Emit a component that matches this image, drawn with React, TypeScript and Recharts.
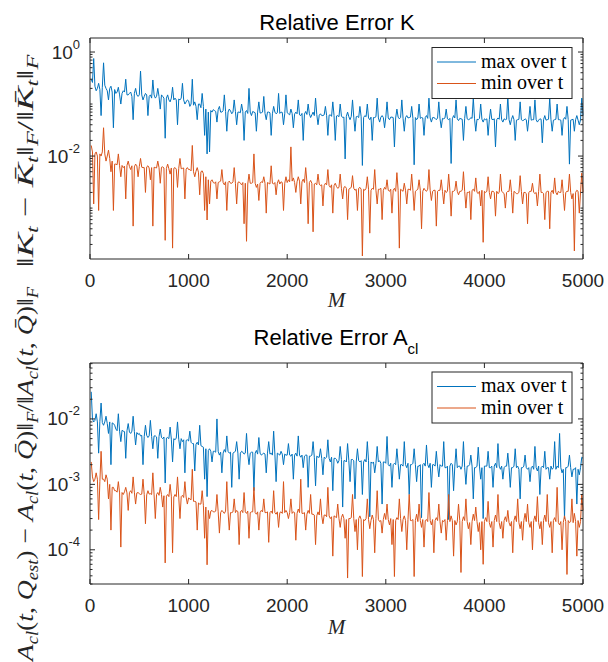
import { Line, LineChart, XAxis, YAxis } from "recharts"

const AX = "#262626"
const BLUE = "#0072BD"
const ORANGE = "#D95319"
const SANS = "Liberation Sans, Arial, Helvetica, sans-serif"
const SERIF = "Liberation Serif, Times New Roman, serif"

// M runs 12.5, 25, ..., 5000 (400 samples)
const mValues = Array.from({ length: 400 }, (_, i) => 12.5 * (i + 1))
const xTicks = [0, 1000, 2000, 3000, 4000, 5000]

// relative error K, max over t
const kMax = [
  0.3, 0.26, 0.75, 0.22, 0.18, 0.2, 0.25, 0.19, 0.06, 0.21, 0.62, 0.23, 0.2, 0.18, 0.12, 0.2, 0.22, 0.17, 0.035, 0.19,
  0.16, 0.17, 0.21, 0.15, 0.1, 0.16, 0.18, 0.17, 0.3, 0.15, 0.15, 0.16, 0.17, 0.14, 0.05, 0.16, 0.2, 0.15, 0.14, 0.15,
  0.43, 0.15, 0.12, 0.14, 0.16, 0.15, 0.06, 0.14, 0.15, 0.13, 0.29, 0.15, 0.13, 0.14, 0.2, 0.14, 0.08, 0.15, 0.14, 0.13,
  0.022, 0.13, 0.15, 0.12, 0.11, 0.13, 0.21, 0.12, 0.13, 0.12, 0.04, 0.125, 0.12, 0.13, 0.25, 0.12, 0.1, 0.11, 0.12, 0.115,
  0.09, 0.1, 0.3, 0.095, 0.11, 0.09, 0.05, 0.1, 0.1, 0.085, 0.16, 0.09, 0.025, 0.08, 0.011, 0.07, 0.012, 0.075, 0.07, 0.078,
  0.075, 0.072, 0.045, 0.078, 0.09, 0.07, 0.07, 0.075, 0.15, 0.072, 0.03, 0.07, 0.08, 0.074, 0.065, 0.07, 0.12, 0.072, 0.04, 0.07,
  0.07, 0.068, 0.1, 0.072, 0.02, 0.07, 0.075, 0.066, 0.2, 0.07, 0.06, 0.072, 0.07, 0.068, 0.03, 0.07, 0.11, 0.067, 0.068, 0.07,
  0.14, 0.066, 0.05, 0.07, 0.07, 0.068, 0.025, 0.065, 0.09, 0.07, 0.065, 0.068, 0.16, 0.066, 0.07, 0.069, 0.04, 0.065, 0.15, 0.068,
  0.065, 0.062, 0.08, 0.066, 0.035, 0.064, 0.07, 0.065, 0.12, 0.062, 0.06, 0.066, 0.02, 0.064, 0.072, 0.063, 0.1, 0.065, 0.055, 0.062,
  0.07, 0.06, 0.13, 0.063, 0.04, 0.061, 0.065, 0.06, 0.06, 0.062, 0.09, 0.06, 0.025, 0.061, 0.062, 0.058, 0.11, 0.06, 0.02, 0.059,
  0.06, 0.057, 0.1, 0.059, 0.055, 0.056, 0.0088, 0.058, 0.07, 0.057, 0.05, 0.058, 0.12, 0.056, 0.03, 0.057, 0.058, 0.055, 0.09, 0.057,
  0.0066, 0.055, 0.06, 0.057, 0.1, 0.054, 0.05, 0.056, 0.02, 0.055, 0.055, 0.057, 0.13, 0.054, 0.045, 0.056, 0.06, 0.055, 0.035, 0.056,
  0.11, 0.054, 0.05, 0.056, 0.056, 0.055, 0.015, 0.054, 0.08, 0.056, 0.052, 0.055, 0.12, 0.053, 0.03, 0.055, 0.06, 0.054, 0.055, 0.056,
  0.09, 0.053, 0.0068, 0.055, 0.05, 0.054, 0.1, 0.053, 0.055, 0.054, 0.025, 0.055, 0.06, 0.053, 0.13, 0.054, 0.045, 0.055, 0.055, 0.053,
  0.05, 0.054, 0.11, 0.052, 0.035, 0.053, 0.052, 0.054, 0.08, 0.052, 0.05, 0.053, 0.0072, 0.052, 0.06, 0.054, 0.12, 0.052, 0.048, 0.053,
  0.052, 0.051, 0.02, 0.053, 0.09, 0.052, 0.05, 0.051, 0.055, 0.053, 0.13, 0.052, 0.03, 0.051, 0.05, 0.053, 0.1, 0.051, 0.045, 0.052,
  0.05, 0.052, 0.025, 0.05, 0.08, 0.051, 0.05, 0.052, 0.015, 0.05, 0.054, 0.051, 0.1, 0.05, 0.045, 0.052, 0.05, 0.051, 0.14, 0.05,
  0.04, 0.051, 0.06, 0.05, 0.02, 0.049, 0.05, 0.051, 0.11, 0.05, 0.048, 0.049, 0.052, 0.05, 0.03, 0.051, 0.09, 0.049, 0.05, 0.05,
  0.12, 0.05, 0.045, 0.049, 0.052, 0.051, 0.018, 0.05, 0.06, 0.049, 0.05, 0.051, 0.13, 0.05, 0.03, 0.049, 0.05, 0.051, 0.1, 0.05,
  0.05, 0.049, 0.025, 0.05, 0.055, 0.051, 0.09, 0.05, 0.007, 0.049, 0.05, 0.051, 0.03, 0.05, 0.06, 0.049, 0.04, 0.05, 0.13, 0.06,
]

// relative error K, min over t
const kMin = [
  0.016, 0.012, 0.0012, 0.011, 0.012, 0.01, 0.0009, 0.011, 0.01, 0.012, 0.035, 0.011, 0.008, 0.01, 0.013, 0.009, 0.005, 0.008, 0.0009, 0.007,
  0.007, 0.0068, 0.011, 0.0065, 0.004, 0.0066, 0.006, 0.0064, 0.0015, 0.0066, 0.008, 0.0063, 0.0055, 0.0065, 0.00045, 0.0062, 0.007, 0.0065, 0.004, 0.0063,
  0.009, 0.0061, 0.006, 0.006, 0.002, 0.0062, 0.0065, 0.0059, 0.0035, 0.006, 0.00045, 0.0061, 0.006, 0.0059, 0.008, 0.006, 0.003, 0.0061, 0.0062, 0.0059,
  0.00024, 0.0058, 0.007, 0.0057, 0.0045, 0.0059, 0.00017, 0.0058, 0.006, 0.0056, 0.0025, 0.0058, 0.009, 0.0057, 0.0058, 0.0059, 0.0015, 0.0056, 0.006, 0.0055,
  0.0055, 0.0052, 0.016, 0.005, 0.004, 0.0051, 0.006, 0.0049, 0.0018, 0.005, 0.0052, 0.0046, 0.0009, 0.004, 0.00059, 0.0035, 0.0012, 0.0033, 0.0035, 0.0031,
  0.003, 0.0032, 0.0015, 0.0031, 0.0032, 0.0033, 0.0055, 0.0031, 0.0028, 0.0032, 0.0009, 0.0031, 0.0033, 0.003, 0.003, 0.0032, 0.006, 0.003, 0.0012, 0.0031,
  0.0032, 0.003, 0.0028, 0.0031, 0.0005, 0.003, 0.00023, 0.0029, 0.0045, 0.003, 0.003, 0.0031, 0.011, 0.003, 0.0025, 0.0029, 0.0014, 0.003, 0.0032, 0.0031,
  0.004, 0.003, 0.0008, 0.0031, 0.003, 0.0029, 0.0065, 0.003, 0.0029, 0.0031, 0.0018, 0.003, 0.0035, 0.0029, 0.0032, 0.0031, 0.0009, 0.003, 0.004, 0.0031,
  0.0035, 0.0032, 0.015, 0.0033, 0.0038, 0.0031, 0.002, 0.0032, 0.004, 0.0033, 0.0012, 0.0032, 0.0036, 0.0031, 0.006, 0.0032, 0.0005, 0.0031, 0.0034, 0.003,
  0.00035, 0.0029, 0.003, 0.0028, 0.0045, 0.0029, 0.0027, 0.0028, 0.0011, 0.0027, 0.003, 0.0028, 0.0055, 0.0027, 0.0025, 0.0028, 0.0008, 0.0027, 0.003, 0.0026,
  0.0024, 0.0025, 0.0045, 0.0024, 0.0015, 0.0025, 0.0026, 0.0024, 0.0006, 0.0023, 0.0024, 0.0025, 0.0042, 0.0024, 0.0022, 0.0023, 0.0009, 0.0024, 0.0025, 0.0023,
  0.00012, 0.0023, 0.0022, 0.0024, 0.004, 0.0023, 0.00033, 0.0022, 0.0024, 0.0023, 0.0055, 0.0022, 0.0012, 0.0023, 0.0023, 0.0024, 0.0006, 0.0022, 0.0025, 0.0023,
  0.0035, 0.0022, 0.0021, 0.0023, 0.0008, 0.0022, 0.0024, 0.0021, 0.0048, 0.0022, 0.00017, 0.0023, 0.0022, 0.0021, 0.003, 0.0022, 0.0012, 0.0023, 0.0023, 0.0022,
  0.0045, 0.0022, 0.0009, 0.0021, 0.0022, 0.0023, 0.0035, 0.0022, 0.0004, 0.0021, 0.0024, 0.0022, 0.0021, 0.0023, 0.0055, 0.0022, 0.0014, 0.0021, 0.0022, 0.0022,
  0.00045, 0.0021, 0.0022, 0.0022, 0.0035, 0.0021, 0.0012, 0.0022, 0.002, 0.0021, 0.0045, 0.0022, 0.0007, 0.0021, 0.0021, 0.0022, 0.0033, 0.0021, 0.0018, 0.0021,
  0.0021, 0.0022, 0.005, 0.0021, 0.001, 0.002, 0.002, 0.0021, 0.0006, 0.0022, 0.0023, 0.0021, 0.0038, 0.002, 0.0019, 0.0021, 0.0011, 0.0022, 0.00022, 0.0021,
  0.002, 0.0021, 0.004, 0.002, 0.0015, 0.0021, 0.0021, 0.002, 0.0007, 0.0021, 0.0019, 0.002, 0.0045, 0.0021, 0.002, 0.0019, 0.001, 0.002, 0.0021, 0.0021,
  0.0035, 0.002, 0.0008, 0.0021, 0.002, 0.0019, 0.0019, 0.002, 0.0042, 0.0021, 0.0012, 0.002, 0.002, 0.0019, 0.0005, 0.002, 0.0021, 0.0021, 0.003, 0.002,
  0.0019, 0.002, 0.0011, 0.0021, 0.0045, 0.002, 0.002, 0.0019, 0.0006, 0.002, 0.0021, 0.0021, 0.0004, 0.002, 0.0022, 0.0019, 0.0038, 0.002, 0.0018, 0.0021,
  0.002, 0.002, 0.0035, 0.0019, 0.0009, 0.002, 0.0021, 0.0021, 0.0045, 0.002, 0.0015, 0.0019, 0.00015, 0.002, 0.0022, 0.0021, 0.0008, 0.002, 0.0047, 0.002,
]

// relative error A_cl, max over t
const aMax = [
  0.026, 0.01, 0.009, 0.0095, 0.012, 0.009, 0.003, 0.0092, 0.0175, 0.0088, 0.008, 0.009, 0.011, 0.0085, 0.006, 0.009, 0.002, 0.0087, 0.0085, 0.008,
  0.007, 0.0066, 0.012, 0.0065, 0.0045, 0.0067, 0.0065, 0.0064, 0.0025, 0.0066, 0.0085, 0.0063, 0.006, 0.0065, 0.011, 0.0064, 0.004, 0.0062, 0.0058, 0.006,
  0.0055, 0.0056, 0.002, 0.0054, 0.008, 0.0056, 0.0052, 0.0055, 0.0095, 0.0054, 0.0035, 0.0055, 0.0055, 0.0053, 0.0025, 0.0054, 0.007, 0.0052, 0.005, 0.0053,
  0.00105, 0.0051, 0.0052, 0.005, 0.0075, 0.0049, 0.0022, 0.005, 0.0048, 0.0051, 0.009, 0.0049, 0.0035, 0.005, 0.0045, 0.0048, 0.0015, 0.0047, 0.0048, 0.0046,
  0.0065, 0.0044, 0.0042, 0.0042, 0.0016, 0.0041, 0.0044, 0.004, 0.008, 0.0039, 0.0038, 0.0037, 0.0012, 0.0035, 0.00065, 0.0033, 0.0035, 0.0032, 0.0022, 0.0032,
  0.0032, 0.0031, 0.01, 0.0032, 0.0028, 0.0031, 0.0015, 0.003, 0.0034, 0.0031, 0.0055, 0.0032, 0.003, 0.0031, 0.0009, 0.003, 0.0031, 0.0032, 0.0045, 0.003,
  0.0012, 0.003, 0.0032, 0.0031, 0.0029, 0.003, 0.006, 0.0029, 0.002, 0.003, 0.0031, 0.0031, 0.0008, 0.003, 0.0033, 0.0029, 0.0052, 0.003, 0.0028, 0.0029,
  0.003, 0.0029, 0.0015, 0.003, 0.0045, 0.0029, 0.003, 0.0028, 0.0065, 0.0029, 0.0011, 0.003, 0.0029, 0.0028, 0.0032, 0.0029, 0.002, 0.0029, 0.0028, 0.0028,
  0.0042, 0.0028, 0.0027, 0.0029, 0.0012, 0.0028, 0.003, 0.0027, 0.0055, 0.0028, 0.0026, 0.0028, 0.0018, 0.0027, 0.0028, 0.0028, 0.0009, 0.0027, 0.0027, 0.0028,
  0.0045, 0.0026, 0.00095, 0.0027, 0.0026, 0.0026, 0.0035, 0.0025, 0.0014, 0.0026, 0.0025, 0.0026, 0.0048, 0.0025, 0.0022, 0.0026, 0.0008, 0.0025, 0.0025, 0.0024,
  0.0021, 0.0023, 0.0038, 0.0024, 0.00045, 0.0023, 0.0023, 0.0022, 0.0042, 0.0023, 0.0011, 0.0024, 0.0024, 0.0023, 0.0006, 0.0022, 0.0035, 0.0023, 0.0022, 0.0023,
  0.0007, 0.0022, 0.0024, 0.0022, 0.0045, 0.0023, 0.00032, 0.0022, 0.0021, 0.0022, 0.0015, 0.0021, 0.0038, 0.0022, 0.0023, 0.0021, 0.0005, 0.0022, 0.0022, 0.0021,
  0.0054, 0.002, 0.0019, 0.0021, 0.0009, 0.002, 0.0021, 0.002, 0.0035, 0.0021, 0.0012, 0.002, 0.002, 0.0019, 0.0045, 0.002, 0.0018, 0.0021, 0.0007, 0.002,
  0.002, 0.0021, 0.0035, 0.002, 0.0011, 0.0019, 0.0019, 0.002, 0.00031, 0.002, 0.0021, 0.0019, 0.004, 0.002, 0.0018, 0.0021, 0.0009, 0.002, 0.002, 0.0019,
  0.0032, 0.0019, 0.0013, 0.002, 0.0019, 0.0019, 0.0045, 0.0018, 0.0018, 0.0019, 0.00029, 0.0019, 0.0021, 0.002, 0.0008, 0.0019, 0.0035, 0.0018, 0.0019, 0.0019,
  0.0017, 0.0019, 0.0045, 0.0018, 0.001, 0.0019, 0.0019, 0.002, 0.0028, 0.0019, 0.0006, 0.0018, 0.0018, 0.0019, 0.0037, 0.0019, 0.0012, 0.0018, 0.0003, 0.0019,
  0.0019, 0.0019, 0.0032, 0.0018, 0.0018, 0.0019, 0.0009, 0.0019, 0.0021, 0.0018, 0.0042, 0.0019, 0.0017, 0.0019, 0.0012, 0.0018, 0.0019, 0.0019, 0.003, 0.0018,
  0.0009, 0.0018, 0.0018, 0.0019, 0.0035, 0.0018, 0.0019, 0.0017, 0.0006, 0.0018, 0.0018, 0.0019, 0.0028, 0.0018, 0.0017, 0.0018, 0.0011, 0.0018, 0.0019, 0.0017,
  0.0038, 0.0018, 0.0016, 0.0019, 0.0007, 0.0018, 0.0019, 0.0018, 0.0032, 0.0017, 0.0018, 0.0018, 0.0012, 0.0019, 0.0017, 0.0018, 0.0045, 0.0017, 0.0019, 0.0018,
  0.006, 0.0018, 0.0015, 0.0017, 0.0003, 0.0018, 0.0018, 0.0019, 0.0028, 0.0018, 0.0013, 0.0017, 0.0017, 0.0018, 0.0005, 0.0017, 0.0014, 0.0018, 0.0026, 0.0025,
]

// relative error A_cl, min over t
const aMin = [
  0.0022, 0.0013, 0.0011, 0.0012, 0.0015, 0.0012, 0.00029, 0.0011, 0.0032, 0.0012, 0.0012, 0.0011, 0.0014, 0.0012, 0.0006, 0.001, 0.0002, 0.0009, 0.0009, 0.0008,
  0.0008, 0.00076, 0.0011, 0.00074, 0.00011, 0.00075, 0.0007, 0.00077, 0.0009, 0.00074, 0.0004, 0.00075, 0.0008, 0.00073, 0.0013, 0.00076, 0.0005, 0.00074, 0.00075, 0.00072,
  0.0007, 0.00071, 0.0012, 0.0007, 0.00025, 0.00069, 0.0008, 0.00071, 0.00072, 0.0007, 0.0015, 0.00069, 0.0003, 0.0007, 0.00075, 0.00068, 0.0009, 0.0007, 0.00045, 0.00067,
  0.000063, 0.00066, 0.0007, 0.00065, 0.001, 0.00066, 0.00009, 0.00064, 0.0007, 0.00065, 0.0013, 0.00064, 0.0003, 0.00065, 0.00068, 0.00063, 0.0011, 0.00064, 0.0005, 0.00062,
  0.0006, 0.00058, 0.0017, 0.00055, 0.00055, 0.00054, 0.0002, 0.00052, 0.0005, 0.0005, 0.0008, 0.00048, 0.00015, 0.00045, 0.000059, 0.0004, 0.0003, 0.00039, 0.0004, 0.00038,
  0.00038, 0.00039, 0.0007, 0.00038, 0.00018, 0.00037, 0.0004, 0.00038, 0.00036, 0.00039, 0.0011, 0.00038, 0.0002, 0.00037, 0.00037, 0.00038, 0.0006, 0.00037, 0.0004, 0.00038,
  0.00012, 0.00038, 0.0004, 0.00037, 0.00075, 0.00038, 0.00036, 0.00039, 0.00015, 0.00037, 0.00038, 0.00038, 0.0009, 0.00037, 0.00035, 0.00038, 0.0002, 0.00037, 0.0004, 0.00038,
  0.0006, 0.00037, 0.00037, 0.00038, 0.00013, 0.00037, 0.00039, 0.00036, 0.0008, 0.00037, 0.00035, 0.00038, 0.00022, 0.00037, 0.00038, 0.00036, 0.0011, 0.00037, 0.0004, 0.00037,
  0.0003, 0.00037, 0.0006, 0.00036, 0.00038, 0.00037, 0.00014, 0.00036, 0.00042, 0.00037, 0.0012, 0.00036, 0.00036, 0.00037, 0.0002, 0.00035, 0.0004, 0.00036, 0.0007, 0.00035,
  0.00035, 0.00034, 0.00012, 0.00033, 0.00038, 0.00034, 0.0006, 0.00033, 0.00025, 0.00034, 0.00034, 0.00032, 0.0009, 0.00033, 0.0003, 0.00032, 0.00008, 0.00033, 0.00032, 0.00031,
  0.0005, 0.0003, 0.00022, 0.00031, 0.00035, 0.0003, 0.00015, 0.00029, 0.000037, 0.0003, 0.0003, 0.00031, 0.0007, 0.0003, 0.00019, 0.00029, 0.0001, 0.0003, 0.00033, 0.00029,
  0.000039, 0.00029, 0.00028, 0.0003, 0.0006, 0.00029, 0.00021, 0.00028, 0.00034, 0.00029, 0.00009, 0.0003, 0.0008, 0.00029, 0.00027, 0.00028, 0.00018, 0.00029, 0.00036, 0.00029,
  0.0005, 0.00029, 0.00024, 0.0003, 0.00012, 0.00029, 0.000039, 0.00028, 0.00031, 0.00029, 0.0006, 0.0003, 0.00019, 0.00029, 0.00033, 0.00028, 0.0001, 0.00029, 0.0007, 0.00028,
  0.00028, 0.00029, 0.000039, 0.00028, 0.00035, 0.00027, 0.0005, 0.00028, 0.00022, 0.00029, 0.00011, 0.00028, 0.00029, 0.00027, 0.00075, 0.00028, 0.00024, 0.00029, 0.00009, 0.00028,
  0.00031, 0.00028, 0.0005, 0.00027, 0.00018, 0.00028, 0.00027, 0.00029, 0.00014, 0.00028, 0.0007, 0.00027, 0.00033, 0.00028, 0.00008, 0.00028, 0.00024, 0.00027, 0.0005, 0.00028,
  0.000045, 0.00027, 0.00032, 0.00028, 0.0006, 0.00027, 0.00021, 0.00026, 0.00012, 0.00027, 0.00035, 0.00028, 0.00045, 0.00027, 0.00019, 0.00026, 0.0001, 0.00027, 0.00006, 0.00027,
  0.00031, 0.00027, 0.00055, 0.00026, 0.00022, 0.00027, 0.00011, 0.00028, 0.00034, 0.00027, 0.0007, 0.00026, 0.00021, 0.00027, 0.00015, 0.00028, 0.00032, 0.00027, 0.0004, 0.00026,
  0.00023, 0.00027, 0.00009, 0.00028, 0.00033, 0.00027, 0.0006, 0.00026, 0.00021, 0.00027, 0.00014, 0.00028, 0.00036, 0.00027, 0.0005, 0.00026, 0.00022, 0.00027, 0.0001, 0.00028,
  0.00033, 0.00027, 0.00065, 0.00026, 0.00021, 0.00027, 0.00012, 0.00028, 0.00034, 0.00027, 0.0007, 0.00026, 0.00022, 0.00027, 0.00009, 0.00028, 0.00031, 0.00027, 0.0009, 0.00026,
  0.00024, 0.00027, 0.0001, 0.00026, 0.00033, 0.00027, 0.000042, 0.00028, 0.00026, 0.00027, 0.0006, 0.00026, 0.00036, 0.00027, 0.00008, 0.00028, 0.00022, 0.00027, 0.00069, 0.0004,
]

const kDomain = [1.05e-4, 1.86]
const aDomain = [3.0e-5, 0.0716]
const kLabelled = [0, -2]
const aLabelled = [-2, -3, -4]

const kData = mValues.map((m, i) => ({ m, max: kMax[i], min: kMin[i] }))
const aData = mValues.map((m, i) => ({ m, max: aMax[i], min: aMin[i] }))

// plot box inside each 608x325 chart
const L = 90
const R = 583
const T = 38
const B = 259

function logTicks(lo: number, hi: number) {
  const out: number[] = []
  for (let e = -6; e <= 1; e++) {
    for (let k = 1; k <= 9; k++) {
      const v = k * Math.pow(10, e)
      if (v >= lo && v <= hi) out.push(v)
    }
  }
  return out
}

const isDecade = (v: number) => Math.abs(Math.log10(v) - Math.round(Math.log10(v))) < 1e-6

function BottomTick({ x, payload }: any) {
  return (
    <g>
      <line x1={x} x2={x} y1={B} y2={B - 5} stroke={AX} />
      <text x={x} y={B + 28} textAnchor="middle" fontSize={19} fill={AX} fontFamily={SANS}>
        {payload.value}
      </text>
    </g>
  )
}

function TopTick({ x }: any) {
  return <line x1={x} x2={x} y1={T} y2={T + 5} stroke={AX} />
}

function leftTick(labelled: number[]) {
  return ({ y, payload }: any) => {
    const v = payload.value
    const e = Math.round(Math.log10(v))
    const major = isDecade(v) && labelled.includes(e)
    return (
      <g>
        <line x1={L} x2={L + (major ? 5 : 2.5)} y1={y} y2={y} stroke={AX} />
        {major && (
          <text x={80} y={y + 6.5} textAnchor="end" fontSize={19} fill={AX} fontFamily={SANS}>
            10
            <tspan dy={-10} fontSize={13}>
              {e}
            </tspan>
          </text>
        )}
      </g>
    )
  }
}

function rightTick(labelled: number[]) {
  return ({ y, payload }: any) => {
    const v = payload.value
    const e = Math.round(Math.log10(v))
    const major = isDecade(v) && labelled.includes(e)
    return <line x1={R} x2={R - (major ? 5 : 2.5)} y1={y} y2={y} stroke={AX} />
  }
}

function ErrorPlot({ data, domain, labelled }: { data: any[]; domain: number[]; labelled: number[] }) {
  const yTicks = logTicks(domain[0], domain[1])
  return (
    <LineChart width={608} height={325} data={data} margin={{ top: 28, right: 15, bottom: 26, left: 30 }}>
      <XAxis
        xAxisId="b"
        dataKey="m"
        type="number"
        domain={[0, 5000]}
        ticks={xTicks}
        interval={0}
        height={40}
        tickSize={0}
        tickMargin={0}
        tickLine={false}
        axisLine={{ stroke: AX }}
        tick={BottomTick}
      />
      <XAxis
        xAxisId="t"
        dataKey="m"
        type="number"
        orientation="top"
        domain={[0, 5000]}
        ticks={xTicks}
        interval={0}
        height={10}
        tickSize={0}
        tickMargin={0}
        tickLine={false}
        axisLine={{ stroke: AX }}
        tick={TopTick}
      />
      <YAxis
        yAxisId="l"
        type="number"
        scale="log"
        domain={domain}
        allowDataOverflow
        ticks={yTicks}
        interval={0}
        width={60}
        tickSize={0}
        tickMargin={0}
        tickLine={false}
        axisLine={{ stroke: AX }}
        tick={leftTick(labelled)}
      />
      <YAxis
        yAxisId="r"
        orientation="right"
        type="number"
        scale="log"
        domain={domain}
        allowDataOverflow
        ticks={yTicks}
        interval={0}
        width={10}
        tickSize={0}
        tickMargin={0}
        tickLine={false}
        axisLine={{ stroke: AX }}
        tick={rightTick(labelled)}
      />
      <Line xAxisId="b" yAxisId="l" dataKey="max" stroke={BLUE} strokeWidth={1} dot={false} isAnimationActive={false} />
      <Line xAxisId="b" yAxisId="l" dataKey="min" stroke={ORANGE} strokeWidth={1} dot={false} isAnimationActive={false} />
    </LineChart>
  )
}

type Seg = [string, "n" | "i" | "s"]

function MathText({ segs }: { segs: Seg[] }) {
  let low = false
  return (
    <>
      {segs.map(([t, kind], i) => {
        const sub = kind === "s"
        const dy = sub && !low ? 5 : !sub && low ? -5 : 0
        low = sub
        return (
          <tspan key={i} dy={dy} fontStyle={kind === "n" ? "normal" : "italic"} fontSize={sub ? 16 : 24}>
            {t}
          </tspan>
        )
      })}
    </>
  )
}

const kLabel: Seg[] = [
  ["‖", "n"], ["K", "i"], ["t", "s"], [" − ", "n"], ["K̄", "i"], ["t", "s"], ["‖", "n"], ["F", "s"],
  ["/", "n"], ["‖", "n"], ["K̄", "i"], ["t", "s"], ["‖", "n"], ["F", "s"],
]

const aLabel: Seg[] = [
  ["‖", "n"], ["A", "i"], ["cl", "s"], ["(", "n"], ["t", "i"], [", ", "n"], ["Q", "i"], ["est", "s"], [") − ", "n"],
  ["A", "i"], ["cl", "s"], ["(", "n"], ["t", "i"], [", ", "n"], ["Q̄", "i"], [")‖", "n"], ["F", "s"],
  ["/", "n"], ["‖", "n"], ["A", "i"], ["cl", "s"], ["(", "n"], ["t", "i"], [", ", "n"], ["Q̄", "i"], [")‖", "n"], ["F", "s"],
]

function LegendBox({ y0 }: { y0: number }) {
  const rows: [string, string][] = [
    ["max over t", BLUE],
    ["min over t", ORANGE],
  ]
  return (
    <g>
      <rect x={432} y={y0} width={140} height={51} fill="#fff" stroke={AX} strokeWidth={1} />
      {rows.map(([label, color], i) => {
        const ry = y0 + 14.5 + i * 21.5
        return (
          <g key={label}>
            <line x1={437} x2={476} y1={ry} y2={ry} stroke={color} strokeWidth={1} />
            <text x={481} y={ry + 5.5} fontSize={20} fontFamily={SERIF} fill="#000">
              {label}
            </text>
          </g>
        )
      })}
    </g>
  )
}

export default function App() {
  return (
    <div style={{ position: "absolute", left: 0, top: 0, width: 608, height: 662, overflow: "hidden", background: "#fff" }}>
      <div style={{ position: "absolute", left: 0, top: 0 }}>
        <ErrorPlot data={kData} domain={kDomain} labelled={kLabelled} />
      </div>
      <div style={{ position: "absolute", left: 0, top: 325 }}>
        <ErrorPlot data={aData} domain={aDomain} labelled={aLabelled} />
      </div>
      <svg width={608} height={662} style={{ position: "absolute", left: 0, top: 0, pointerEvents: "none" }}>
        <text x={337} y={30} textAnchor="middle" fontSize={22} fontFamily={SANS} fill="#000">
          Relative Error K
        </text>
        <text x={336} y={345} textAnchor="middle" fontSize={22} fontFamily={SANS} fill="#000">
          Relative Error A
          <tspan dy={9} fontSize={15}>
            cl
          </tspan>
        </text>
        <text x={336.5} y={307} textAnchor="middle" fontSize={21} fontStyle="italic" fontFamily={SERIF} fill={AX}>
          M
        </text>
        <text x={336.5} y={634} textAnchor="middle" fontSize={21} fontStyle="italic" fontFamily={SERIF} fill={AX}>
          M
        </text>
        <text
          transform="translate(33,161) rotate(-90)"
          textAnchor="middle"
          textLength={213}
          lengthAdjust="spacingAndGlyphs"
          fontFamily={SERIF}
          fill={AX}
        >
          <MathText segs={kLabel} />
        </text>
        <text
          transform="translate(33,478) rotate(-90)"
          textAnchor="middle"
          textLength={382}
          lengthAdjust="spacingAndGlyphs"
          fontFamily={SERIF}
          fill={AX}
        >
          <MathText segs={aLabel} />
        </text>
        <LegendBox y0={47.5} />
        <LegendBox y0={372} />
      </svg>
    </div>
  )
}
